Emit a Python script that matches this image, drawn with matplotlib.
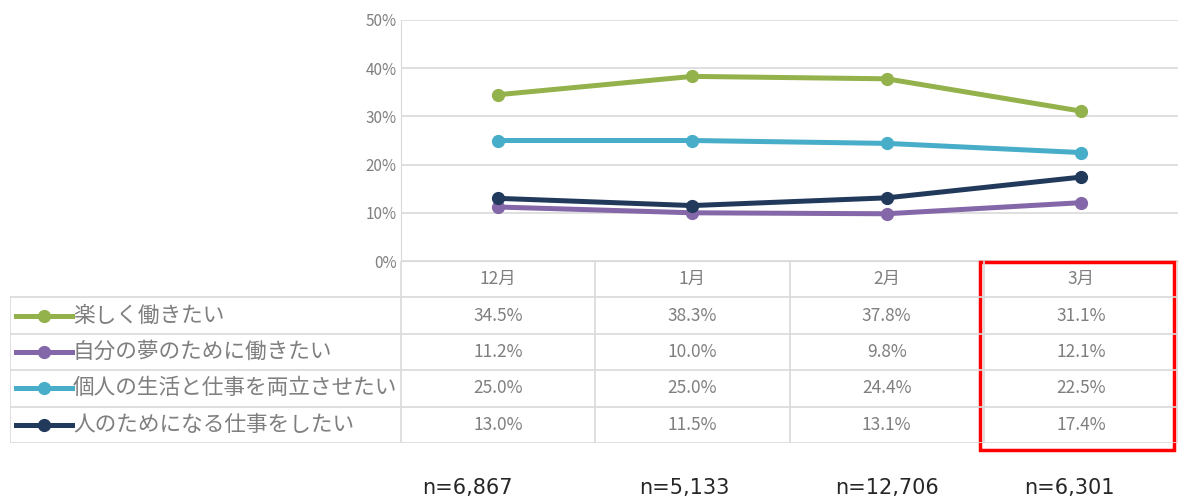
import matplotlib
matplotlib.use("Agg")
import matplotlib.pyplot as plt
from matplotlib.patches import Rectangle

plt.rcParams['font.family'] = ['Noto Sans CJK JP', 'DejaVu Sans']

months = ['12月', '1月', '2月', '3月']
series_names = ['楽しく働きたい', '自分の夢のために働きたい', '個人の生活と仕事を両立させたい', '人のためになる仕事をしたい']
enjoy = [34.5, 38.3, 37.8, 31.1]
dream = [11.2, 10.0, 9.8, 12.1]
balance = [25.0, 25.0, 24.4, 22.5]
others = [13.0, 11.5, 13.1, 17.4]
sample_sizes = ['n=6,867', 'n=5,133', 'n=12,706', 'n=6,301']
colors = ['#93B24C', '#8467A8', '#47ADC8', '#213A5C']

values = [enjoy, dream, balance, others]
W, H = 1179, 503
fig = plt.figure(figsize=(W / 100, H / 100), dpi=100)

# line chart area
x0, x1, ytop, ybot = 401, 1178, 20, 261
ax = fig.add_axes([x0 / W, 1 - ybot / H, (x1 - x0) / W, (ybot - ytop) / H])
xs = list(range(len(months)))
for vals, c in zip(values, colors):
    ax.plot(xs, vals, color=c, lw=3.6, marker='o', ms=8.5, solid_capstyle='round')
ax.set_xlim(-0.5, 3.5)
ax.set_ylim(0, 50)
ax.set_yticks(range(0, 51, 10))
ax.set_yticklabels([f'{v}%' for v in range(0, 51, 10)], color='#7f7f7f', fontsize=11)
ax.set_xticks([])
ax.grid(axis='y', color='#d9d9d9', lw=1.2)
ax.tick_params(axis='y', length=0, pad=3)
for s in ['top', 'right']:
    ax.spines[s].set_visible(False)
ax.spines['left'].set_color('#d9d9d9')
ax.spines['bottom'].set_color('#d9d9d9')
ax.set_axisbelow(True)

# data table below
tl, tb = 10, 443
units = 4 / (x1 - x0)
tax = fig.add_axes([tl / W, 1 - tb / H, (x1 - tl) / W, (tb - ybot) / H])
left_lim = -0.5 - (x0 - tl) * units
tax.set_xlim(left_lim, 3.5)
tax.set_ylim(5, 0)
tax.axis('off')
gc = '#d9d9d9'
for b in [-0.5, 0.5, 1.5, 2.5, 3.5]:
    tax.plot([b, b], [0, 5], color=gc, lw=1.2)
tax.plot([left_lim, left_lim], [1, 5], color=gc, lw=1.2)
for r in range(1, 6):
    tax.plot([left_lim, 3.5], [r, r], color=gc, lw=1.2)
for i, m in enumerate(months):
    tax.text(i, 0.5, m, ha='center', va='center', color='#7f7f7f', fontsize=12.5)
for r, (name, vals, c) in enumerate(zip(series_names, values, colors)):
    y = r + 1.5
    sx = left_lim + 6 * units
    tax.plot([sx, sx + 56 * units], [y, y], color=c, lw=3.6)
    tax.plot([sx + 28 * units], [y], 'o', color=c, ms=8.5)
    tax.text(sx + 57 * units, y, name, ha='left', va='center', color='#7f7f7f', fontsize=15.6)
    for i, v in enumerate(vals):
        tax.text(i, y, f'{v:.1f}%', ha='center', va='center', color='#7f7f7f', fontsize=12.5)

# highlight box around the latest month
tax.add_patch(Rectangle((2.48, 0.03), 1.0, 5.15, fill=False, edgecolor='#ff0000', lw=2.5, clip_on=False))

# sample sizes
n_offsets = [-0.16, -0.04, 0.0, -0.06]
for i, (n, off) in enumerate(zip(sample_sizes, n_offsets)):
    fig.text((x0 + (i + 0.5 + off) / units) / W, 1 - 488 / H, n, ha='center', va='center',
             color='#262626', fontsize=15, family=['DejaVu Sans'])

fig.savefig('out.png', dpi=100)
